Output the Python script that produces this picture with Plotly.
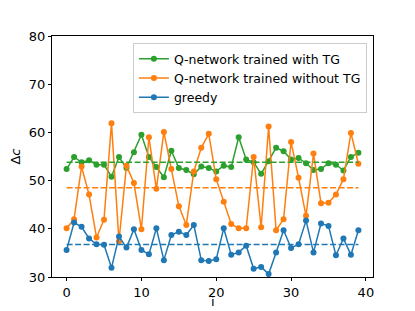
import numpy as np
import plotly.graph_objects as go

idx = list(range(40))
with_tg = [52.4, 54.9, 53.8, 54.2, 53.3, 53.3, 50.8, 54.9, 52.6, 55.9,
           59.5, 54.9, 52.8, 50.7, 56.2, 52.6, 52.2, 51.3, 52.9, 52.6,
           51.9, 53.1, 52.8, 59.0, 54.4, 53.8, 51.4, 54.0, 56.8, 56.1,
           54.4, 54.7, 53.6, 52.2, 52.4, 53.6, 53.3, 52.1, 54.9, 55.8]
without_tg = [40.1, 42.0, 52.9, 47.1, 38.2, 41.9, 61.9, 37.4, 53.1, 49.5,
              39.9, 59.0, 48.3, 60.1, 52.4, 44.7, 40.8, 51.9, 56.8, 59.7,
              50.3, 45.6, 41.0, 40.1, 40.1, 54.9, 40.3, 61.2, 39.7, 42.0,
              58.0, 50.6, 42.7, 55.6, 45.3, 45.4, 47.1, 50.3, 59.9, 53.5]
greedy = [35.6, 41.3, 40.4, 38.0, 36.8, 36.7, 31.9, 38.4, 36.1, 39.9,
          35.6, 34.7, 40.1, 33.5, 38.7, 39.4, 38.7, 40.8, 33.5, 33.3,
          33.7, 40.1, 34.6, 35.1, 36.5, 31.7, 32.1, 30.6, 35.1, 39.7,
          36.0, 36.8, 41.7, 35.1, 41.1, 40.6, 34.5, 38.0, 34.6, 39.7]
names = ["Q-network trained with TG", "Q-network trained without TG", "greedy"]
colors = ["#2ca02c", "#ff7f0e", "#1f77b4"]
series = [with_tg, without_tg, greedy]
x_title = "i"
y_title = "Δ<i>c</i>"

fig = go.Figure()
for name, col, ys in zip(names, colors, series):
    fig.add_trace(go.Scatter(x=idx, y=ys, mode="lines+markers", name=name,
                             line=dict(color=col, width=1.5),
                             marker=dict(color=col, size=6)))
for name, col, ys in zip(names, colors, series):
    m = float(np.mean(ys))
    fig.add_trace(go.Scatter(x=[idx[0], idx[-1]], y=[m, m], mode="lines",
                             showlegend=False, hoverinfo="skip",
                             line=dict(color=col, width=1.5, dash="6px,2.5px")))

axis_common = dict(showline=True, linecolor="black", linewidth=1, mirror=True,
                   ticks="outside", ticklen=3, tickcolor="black",
                   showgrid=False, zeroline=False, automargin=False,
                   tickfont=dict(family="DejaVu Sans", size=13, color="black"))
fig.update_layout(
    width=407, height=303,
    margin=dict(l=44, r=42, t=28, b=34),
    paper_bgcolor="white", plot_bgcolor="white",
    font=dict(family="DejaVu Sans", color="black"),
    xaxis=dict(range=[-1.95, 40.95], tickvals=[0, 10, 20, 30, 40], **axis_common),
    yaxis=dict(range=[30, 80], tickvals=[30, 40, 50, 60, 70, 80],
               title=dict(text=y_title, font=dict(size=13), standoff=6), **axis_common),
    legend=dict(x=0.981, y=0.97, xanchor="right", yanchor="top",
                bgcolor="white", bordercolor="#cccccc", borderwidth=1,
                font=dict(size=12.5, color="black"), tracegroupgap=0,
                itemwidth=30),
    showlegend=True,
)
fig.add_annotation(text=x_title, xref="paper", yref="paper", x=0.5, y=0,
                   xanchor="center", yanchor="bottom", yshift=-33, showarrow=False,
                   borderpad=0, font=dict(size=13, color="black"))
fig.write_html("out.html")
